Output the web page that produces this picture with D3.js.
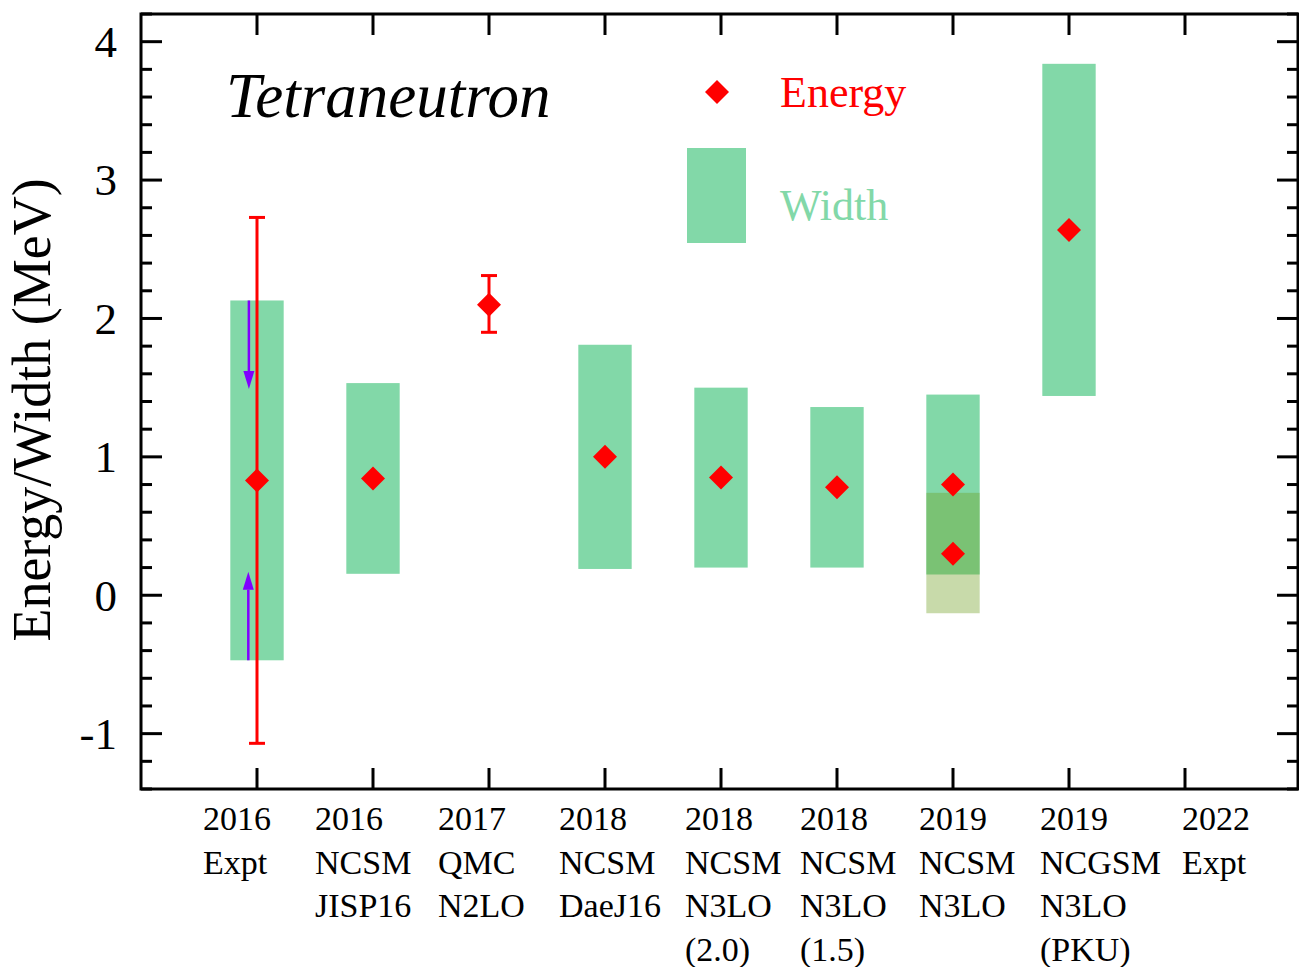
<!DOCTYPE html>
<html>
<head>
<meta charset="utf-8">
<script src="https://cdn.jsdelivr.net/npm/d3@7/dist/d3.min.js"></script>
<style>
  html, body { margin: 0; padding: 0; background: #fff; }
  svg { display: block; }
  text { font-family: "Liberation Serif", "Times New Roman", serif; }
</style>
</head>
<body>
<svg id="chart" width="1299" height="967"></svg>
<script>
// ---- data -------------------------------------------------------------
// category labels (one block of lines per tick position 1..9)
const categoryLabels = [
  ["2016", "Expt"],
  ["2016", "NCSM", "JISP16"],
  ["2017", "QMC", "N2LO"],
  ["2018", "NCSM", "DaeJ16"],
  ["2018", "NCSM", "N3LO", "(2.0)"],
  ["2018", "NCSM", "N3LO", "(1.5)"],
  ["2019", "NCSM", "N3LO"],
  ["2019", "NCGSM", "N3LO", "(PKU)"],
  ["2022", "Expt"]
];

// resonance energies (MeV)
const energyPos  = [1, 2, 3, 4, 5, 6, 7, 7, 8];
const energyVals = [0.83, 0.844, 2.10, 1.00, 0.85, 0.78, 0.80, 0.30, 2.64];

// resonance widths, drawn as bands from low to high (MeV)
const widthPos  = [1, 2, 4, 5, 6, 7, 8];
const widthLow  = [-0.47, 0.155, 0.19, 0.20, 0.20, 0.15, 1.44];
const widthHigh = [2.13, 1.533, 1.81, 1.50, 1.36, 1.45, 3.84];

// second width band of the 2019 NCSM result
const width2Pos  = [7];
const width2Low  = [-0.13];
const width2High = [0.74];

// energy uncertainties
const errPos  = [1, 3];
const errLow  = [-1.07, 1.90];
const errHigh = [2.73, 2.31];

// arrows inside the 2016 experimental band
const arrowPos  = [0.93, 0.925];
const arrowFrom = [2.13, -0.47];
const arrowTo   = [1.49, 0.17];

// axis ticks
const yMajorTicks = [-1, 0, 1, 2, 3, 4];
const yMinorTicks = d3.range(-1.4, 4.21, 0.2).map(v => +v.toFixed(1));
const xTicks = [1, 2, 3, 4, 5, 6, 7, 8, 9];

// ---- layout -----------------------------------------------------------
const svg = d3.select("#chart");
const plotLeft = 141, plotRight = 1298, plotTop = 14, plotBottom = 789;

const x = d3.scaleLinear().domain([0, 10]).range([plotLeft, plotLeft + 1160]);
const y = d3.scaleLinear().domain([-1.4, 4.2]).range([plotBottom, plotTop]);
// left edges of the label blocks under the axis (hand-spaced text strip)
const xLabel = d3.scaleLinear().domain(xTicks)
  .range([203, 315, 438, 559, 685, 800, 919, 1040, 1182]);

const green = "rgb(130,216,168)";
const olive = "rgb(110,158,32)";
const red = "#ff0000";
const purple = "rgb(128,0,255)";
const bandHalf = 0.23;

// ---- width bands ------------------------------------------------------
svg.append("g").selectAll("rect")
  .data(widthPos.map((p, i) => ({p, lo: widthLow[i], hi: widthHigh[i]})))
  .join("rect")
  .attr("x", d => x(d.p - bandHalf))
  .attr("width", d => x(d.p + bandHalf) - x(d.p - bandHalf))
  .attr("y", d => y(d.hi))
  .attr("height", d => y(d.lo) - y(d.hi))
  .attr("fill", green);

svg.append("g").selectAll("rect")
  .data(width2Pos.map((p, i) => ({p, lo: width2Low[i], hi: width2High[i]})))
  .join("rect")
  .attr("x", d => x(d.p - bandHalf))
  .attr("width", d => x(d.p + bandHalf) - x(d.p - bandHalf))
  .attr("y", d => y(d.hi))
  .attr("height", d => y(d.lo) - y(d.hi))
  .attr("fill", olive)
  .attr("fill-opacity", 0.38);

// ---- arrows -----------------------------------------------------------
const arrows = svg.append("g");
arrowPos.forEach((p, i) => {
  const ax = x(p), y0 = y(arrowFrom[i]), y1 = y(arrowTo[i]);
  const dir = Math.sign(y1 - y0);
  const head = 18, hw = 5.5;
  arrows.append("line")
    .attr("x1", ax).attr("x2", ax)
    .attr("y1", y0).attr("y2", y1 - dir * head)
    .attr("stroke", purple).attr("stroke-width", 2.5);
  arrows.append("path")
    .attr("d", `M${ax - hw},${y1 - dir * head} L${ax + hw},${y1 - dir * head} L${ax},${y1} Z`)
    .attr("fill", purple);
});

// ---- error bars -------------------------------------------------------
const errs = svg.append("g").attr("stroke", red).attr("stroke-width", 3);
errPos.forEach((p, i) => {
  const ex = x(p);
  errs.append("line").attr("x1", ex).attr("x2", ex)
    .attr("y1", y(errLow[i])).attr("y2", y(errHigh[i]));
  [errLow[i], errHigh[i]].forEach(v => {
    errs.append("line").attr("x1", ex - 8).attr("x2", ex + 8)
      .attr("y1", y(v)).attr("y2", y(v));
  });
});

// ---- energy markers ---------------------------------------------------
const diamond = (cx, cy, r) => `M${cx},${cy - r} L${cx + r},${cy} L${cx},${cy + r} L${cx - r},${cy} Z`;
svg.append("g").selectAll("path")
  .data(energyPos.map((p, i) => ({p, v: energyVals[i]})))
  .join("path")
  .attr("d", d => diamond(x(d.p), y(d.v), 12))
  .attr("fill", red);

// ---- frame and ticks --------------------------------------------------
const frame = svg.append("g").attr("stroke", "#000").attr("stroke-width", 3).attr("fill", "none");
frame.append("rect")
  .attr("x", plotLeft).attr("y", plotTop)
  .attr("width", plotRight - plotLeft).attr("height", plotBottom - plotTop);

yMinorTicks.forEach(v => {
  const major = yMajorTicks.some(m => Math.abs(m - v) < 1e-6);
  const len = major ? 21 : 11;
  frame.append("line").attr("x1", plotLeft).attr("x2", plotLeft + len).attr("y1", y(v)).attr("y2", y(v));
  frame.append("line").attr("x1", plotRight).attr("x2", plotRight - len).attr("y1", y(v)).attr("y2", y(v));
});
xTicks.forEach(t => {
  frame.append("line").attr("x1", x(t)).attr("x2", x(t)).attr("y1", plotBottom).attr("y2", plotBottom - 21);
  frame.append("line").attr("x1", x(t)).attr("x2", x(t)).attr("y1", plotTop).attr("y2", plotTop + 21);
});

// y tick labels
svg.append("g").selectAll("text")
  .data(yMajorTicks)
  .join("text")
  .attr("x", plotLeft - 24)
  .attr("y", d => y(d))
  .attr("dy", "0.34em")
  .attr("text-anchor", "end")
  .attr("font-size", 45)
  .text(d => d < 0 ? "-" + Math.abs(d) : d);

// x category labels
const lab = svg.append("g").attr("font-size", 34);
categoryLabels.forEach((lines, i) => {
  const t = lab.append("text").attr("x", xLabel(i + 1)).attr("y", 830);
  lines.forEach((s, k) => {
    t.append("tspan").attr("x", xLabel(i + 1)).attr("y", 830 + k * 43.5).text(s);
  });
});

// y axis title
svg.append("text")
  .attr("transform", "translate(50,410) rotate(-90)")
  .attr("text-anchor", "middle")
  .attr("font-size", 54)
  .text("Energy/Width (MeV)");

// chart title
svg.append("text")
  .attr("x", 226).attr("y", 117)
  .attr("font-size", 63)
  .attr("font-style", "italic")
  .text("Tetraneutron");

// ---- legend -----------------------------------------------------------
const legend = svg.append("g");
legend.append("path").attr("d", diamond(717, 92, 12)).attr("fill", red);
legend.append("text").attr("x", 780).attr("y", 107)
  .attr("font-size", 44).attr("fill", red).text("Energy");
legend.append("rect").attr("x", 687).attr("y", 148).attr("width", 59).attr("height", 95).attr("fill", green);
legend.append("text").attr("x", 780).attr("y", 220)
  .attr("font-size", 44).attr("fill", green).text("Width");
</script>
</body>
</html>
